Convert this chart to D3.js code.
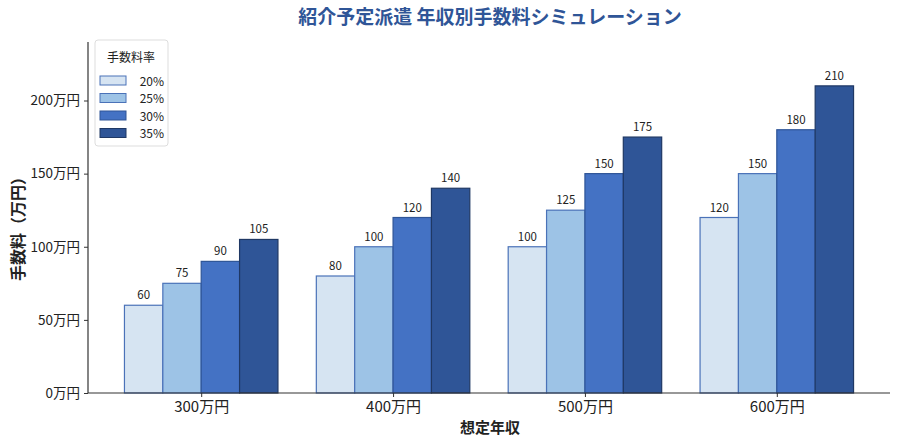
<!DOCTYPE html>
<html>
<head>
<meta charset="utf-8">
<script src="https://cdn.jsdelivr.net/npm/d3@7"></script>
<style>
  body { margin: 0; background: #fff; }
  svg text { font-family: "Noto Sans CJK JP", "Noto Sans", sans-serif; fill: #222; }
</style>
</head>
<body>
<div id="chart"></div>
<script>
// data
const salaries = ["300万円", "400万円", "500万円", "600万円"];
const rates = ["20%", "25%", "30%", "35%"];
const fee20 = [60, 80, 100, 120];
const fee25 = [75, 100, 125, 150];
const fee30 = [90, 120, 150, 180];
const fee35 = [105, 140, 175, 210];
const yTicks = [0, 50, 100, 150, 200];

const series = [fee20, fee25, fee30, fee35];
const fills = ["#d6e4f2", "#9dc3e6", "#4472c4", "#2f5597"];
const strokes = ["#4a72b8", "#4a72b8", "#2f5597", "#1f3864"];

const W = 900, H = 446;
const pLeft = 88, pRight = 890, pTop = 42, pBottom = 393;

const svg = d3.select("#chart").append("svg")
    .attr("width", W).attr("height", H);

// x as continuous like matplotlib bar positions
const x = d3.scaleLinear().domain([-0.59, 3.59]).range([pLeft, pRight]);
const y = d3.scaleLinear().domain([0, 240]).range([pBottom, pTop]);
const bw = 0.2;

// bars
series.forEach(function (vals, s) {
    const g = svg.append("g");
    g.selectAll("rect")
        .data(vals).enter()
        .append("rect")
        .attr("x", function (d, i) { return x(i + (s - 2) * bw); })
        .attr("y", function (d) { return y(d); })
        .attr("width", x(bw) - x(0))
        .attr("height", function (d) { return y(0) - y(d); })
        .attr("fill", fills[s])
        .attr("stroke", strokes[s])
        .attr("stroke-width", 1.2);
    g.selectAll("text")
        .data(vals).enter()
        .append("text")
        .attr("x", function (d, i) { return x(i + (s - 1.5) * bw); })
        .attr("y", function (d) { return y(d) - 6; })
        .attr("text-anchor", "middle")
        .attr("font-size", 11.5)
        .text(function (d) { return d; });
});

// y axis
const yAxis = svg.append("g")
    .attr("transform", "translate(" + pLeft + ",0)")
    .call(d3.axisLeft(y).tickValues(yTicks).tickSize(4).tickPadding(4)
        .tickFormat(function (d) { return d + "万円"; }));
yAxis.select(".domain").attr("stroke", "#333").attr("stroke-width", 1.2)
    .attr("d", "M0," + pTop + "V" + pBottom);
yAxis.selectAll("line").attr("stroke", "#333");
yAxis.selectAll("text").attr("font-size", 13.5).style("fill", "#222");

// x axis
const xAxis = svg.append("g")
    .attr("transform", "translate(0," + pBottom + ")")
    .call(d3.axisBottom(x).tickValues([0, 1, 2, 3]).tickSize(4).tickPadding(4)
        .tickFormat(function (d) { return salaries[d]; }));
xAxis.select(".domain").attr("stroke", "#333").attr("stroke-width", 1.2)
    .attr("d", "M" + pLeft + ",0H" + pRight);
xAxis.selectAll("line").attr("stroke", "#333");
xAxis.selectAll("text").attr("font-size", 15).style("fill", "#222");

// title and axis labels
svg.append("text")
    .attr("x", 490).attr("y", 24)
    .attr("text-anchor", "middle")
    .attr("font-size", 19).attr("font-weight", "bold")
    .style("fill", "#2f5597")
    .text("紹介予定派遣 年収別手数料シミュレーション");

svg.append("text")
    .attr("x", 490).attr("y", 433)
    .attr("text-anchor", "middle")
    .attr("font-size", 15).attr("font-weight", "bold")
    .text("想定年収");

svg.append("text")
    .attr("transform", "translate(24,225) rotate(-90)")
    .attr("text-anchor", "middle")
    .attr("font-size", 16).attr("font-weight", "bold")
    .text("手数料（万円）");

// legend
const lg = svg.append("g").attr("transform", "translate(95,40)");
lg.append("rect")
    .attr("width", 73).attr("height", 106).attr("rx", 3)
    .attr("fill", "#fff").attr("stroke", "#ddd");
lg.append("text")
    .attr("x", 36).attr("y", 22)
    .attr("text-anchor", "middle").attr("font-size", 12)
    .text("手数料率");
rates.forEach(function (r, i) {
    lg.append("rect")
        .attr("x", 5).attr("y", 36 + i * 17.5)
        .attr("width", 26).attr("height", 9)
        .attr("fill", fills[i]).attr("stroke", strokes[i]).attr("stroke-width", 1);
    lg.append("text")
        .attr("x", 69).attr("y", 45.5 + i * 17.5)
        .attr("text-anchor", "end").attr("font-size", 12)
        .text(r);
});
</script>
</body>
</html>
